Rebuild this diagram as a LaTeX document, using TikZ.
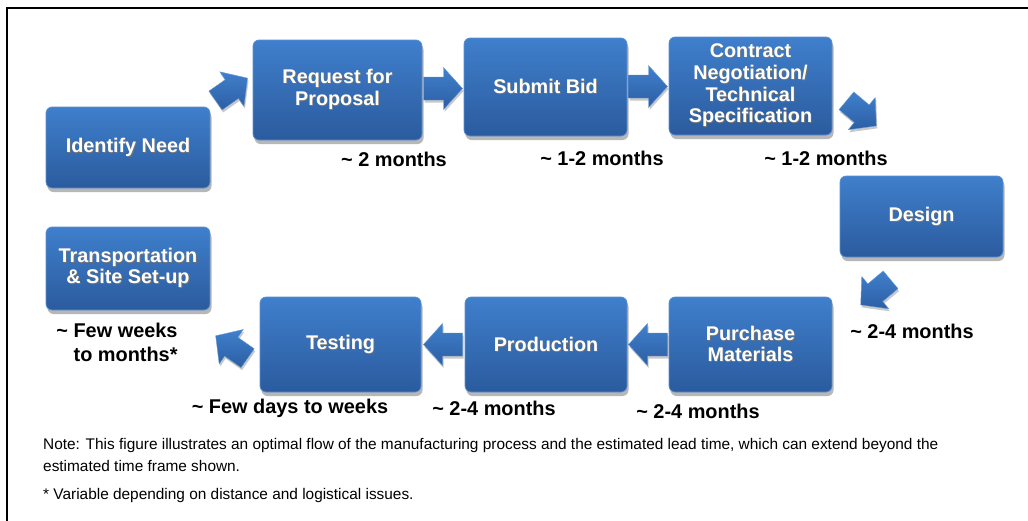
\documentclass[tikz,border=0pt]{standalone}
\usepackage{fontspec}
\setmainfont{Liberation Sans}
\usetikzlibrary{shadows,calc}
\definecolor{boxtop}{HTML}{3F7FCC}
\definecolor{boxbot}{HTML}{2B5B9E}
\definecolor{boxedge}{HTML}{5C90D4}
\definecolor{arrtop}{HTML}{4080CC}
\definecolor{arrbot}{HTML}{2C5EA4}
\newcommand{\tsh}[1]{\makebox[0pt][l]{\raisebox{-1pt}{\hspace{0.8pt}\textcolor{black!55}{#1}}}#1}
\begin{document}
\begin{tikzpicture}[x=1pt,y=-1pt,
  stepbox/.style={rounded corners=6pt, top color=boxtop, bottom color=boxbot,
    draw=boxedge, line width=0.7pt, text=white, align=center, inner sep=2pt,
    font=\fontsize{19.8}{21.7}\selectfont\bfseries,
    drop shadow={shadow xshift=1.5pt, shadow yshift=-4pt, opacity=0.4, fill=black!70}},
  lbl/.style={font=\fontsize{19.9}{24}\selectfont\bfseries, text=black, inner sep=0pt},
  note/.style={font=\fontsize{15.4}{22}\selectfont, text=black, inner sep=0pt, align=left, anchor=north west},
  blockarrow/.pic={
    \path[top color=arrtop, bottom color=arrbot, draw=arrtop!80!white, line width=0.4pt,
      drop shadow={shadow xshift=1pt, shadow yshift=-2.5pt, opacity=0.3, fill=black!70}]
      (-19.5,-11.5) -- (0.5,-11.5) -- (0.5,-21) -- (19.5,0) -- (0.5,21) -- (0.5,11.5) -- (-19.5,11.5) -- cycle;
  }]
\useasboundingbox (0,0) rectangle (1028,520);
\fill[white] (0,0) rectangle (1028,520);
\draw[line width=2.3pt] (7,521) -- (7,8) -- (1029,8);

% boxes
\node[stepbox, minimum width=164, minimum height=81] (need) at (128,147.5) {\tsh{Identify Need}};
\node[stepbox, minimum width=169, minimum height=100] (rfp) at (337.5,90) {\tsh{Request for}\\\tsh{Proposal}};
\node[stepbox, minimum width=163, minimum height=98] (bid) at (545.5,87) {\tsh{Submit Bid}};
\node[stepbox, minimum width=163, minimum height=98] (contract) at (750.5,86) {\tsh{Contract}\\\tsh{Negotiation/}\\\tsh{Technical}\\\tsh{Specification}};
\node[stepbox, minimum width=163, minimum height=81] (design) at (921.5,216.5) {\tsh{Design}};
\node[stepbox, minimum width=163, minimum height=95] (purchase) at (750.5,344.5) {\tsh{Purchase}\\\tsh{Materials}};
\node[stepbox, minimum width=162, minimum height=95] (production) at (546,344.5) {\tsh{Production}};
\node[stepbox, minimum width=161, minimum height=95] (testing) at (340.5,344.5) {\tsh{Testing}};
\node[stepbox, minimum width=164, minimum height=83] (transport) at (128,268.5) {\tsh{Transportation}\\\tsh{\& Site Set-up}};

% block arrows
\pic[rotate=35] at ($(need.north east)!0.5!(rfp.west)+(0,-9)$) {blockarrow};
\pic at ($(rfp.east)!0.5!(bid.west)$) {blockarrow};
\pic at ($(bid.east)!0.5!(contract.west)$) {blockarrow};
\pic[rotate=-40] at ($(contract.south east)+(29,-22)$) {blockarrow};
\pic[rotate=220] at ($(design.south west)+(36,35)$) {blockarrow};
\pic[rotate=180] at ($(purchase.west)!0.5!(production.east)$) {blockarrow};
\pic[rotate=180] at ($(production.west)!0.5!(testing.east)$) {blockarrow};
\pic[rotate=145] at ($(testing.west)+(-28,2.5)$) {blockarrow};

% lead times
\node[lbl] (t1) at (394,159) {\textasciitilde\ 2 months};
\node[lbl] (t2) at (602,158) {\textasciitilde\ 1-2 months};
\node[lbl] (t3) at (826,158) {\textasciitilde\ 1-2 months};
\node[lbl] (t4) at (912,331) {\textasciitilde\ 2-4 months};
\node[lbl] (t5) at (698,411) {\textasciitilde\ 2-4 months};
\node[lbl] (t6) at (494,408) {\textasciitilde\ 2-4 months};
\node[lbl] (t7) at (290,408) {\textasciitilde\ Few days to weeks};
\node[lbl, align=right] (t8) at (117,342) {\textasciitilde\ Few weeks\\to months*};

% notes
\node[note] (n1) at (43,438) {Note: This figure illustrates an optimal flow of the manufacturing process and the estimated lead time, which can extend beyond the\\estimated time frame shown.};
\node[note] (n2) at (43,488) {* Variable depending on distance and logistical issues.};
\end{tikzpicture}
\end{document}
